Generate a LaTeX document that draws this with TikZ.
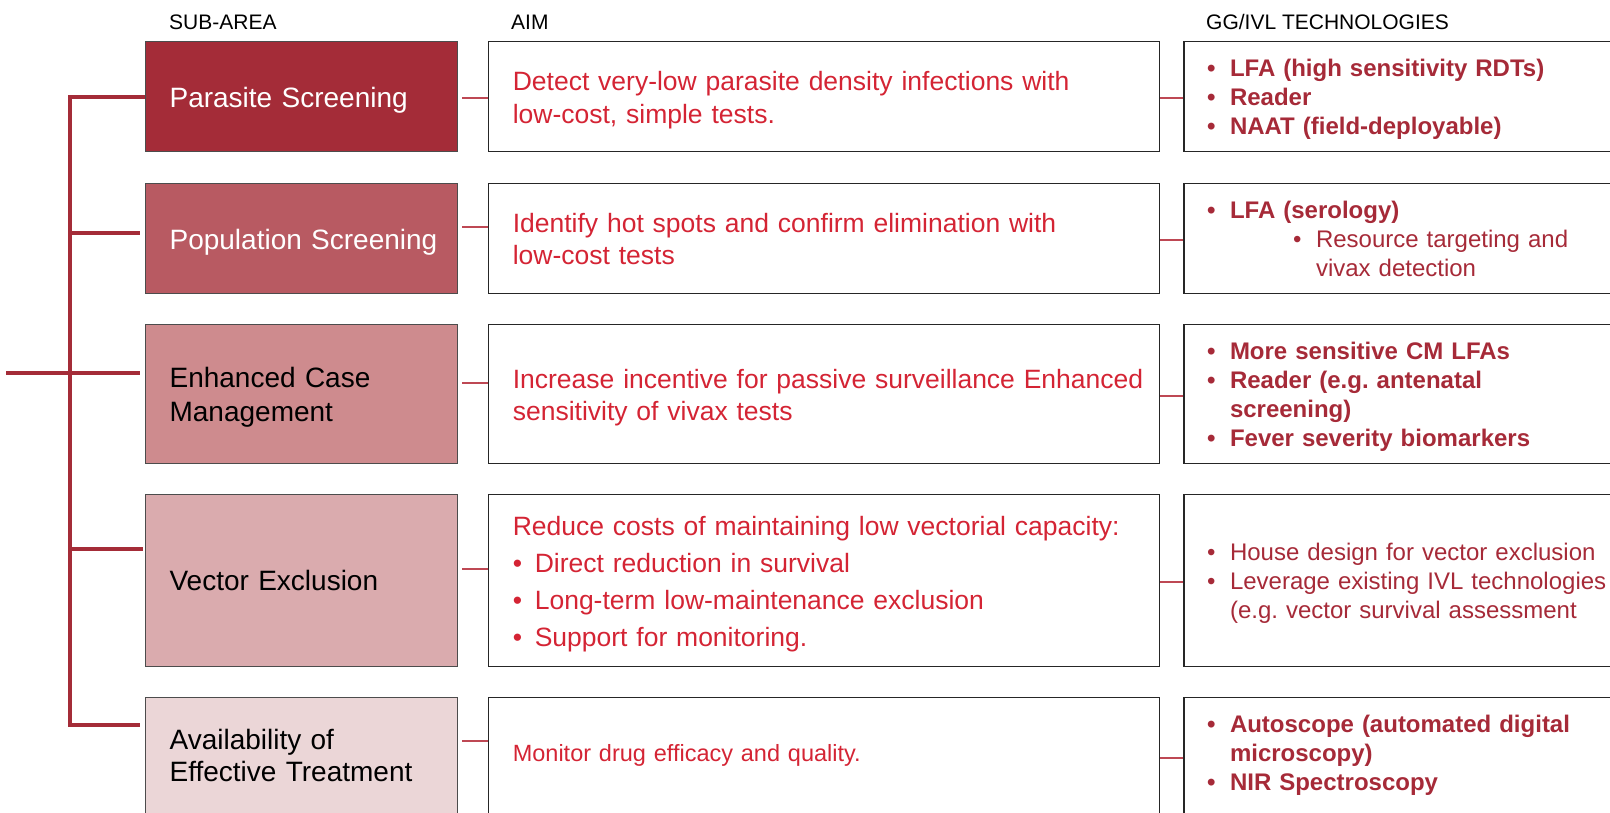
\documentclass[tikz,border=0pt]{standalone}
\usepackage{fontspec}
\setmainfont{Liberation Sans}
\usetikzlibrary{positioning}
\frenchspacing

\begin{document}
\begin{tikzpicture}[x=1pt, y=-1pt]

	\useasboundingbox (0,0) rectangle (1610,812);

	\def\subx{145}
	\def\spinex{70}
	\def\gapa{30pt}
	\def\gapb{23pt}

	\def\abul{\makebox[22pt][l]{\textbullet}}
	\def\tbul{\makebox[23pt][l]{\textbullet}}

	% Colours
	\definecolor{subA}{RGB}{164,44,56}
	\definecolor{subB}{RGB}{184,90,98}
	\definecolor{subC}{RGB}{206,139,142}
	\definecolor{subD}{RGB}{218,171,174}
	\definecolor{subE}{RGB}{235,214,215}
	\definecolor{aimred}{RGB}{212,36,52}
	\definecolor{techred}{RGB}{166,42,56}
	\colorlet{bracketred}{subA}
	\definecolor{linkred}{RGB}{190,72,84}

	% Styles
	\tikzstyle{header}=[anchor=base west, inner sep=0pt, font=\fontsize{21}{25}\selectfont]
	\tikzstyle{boxtext}=[inner ysep=0pt, align=left, execute at begin node={\rule{0pt}{0.98em}}]
	\tikzstyle{balance}=[execute at end node={\rule[-#1]{0pt}{0pt}}]
	\tikzstyle{subbox}=[boxtext, draw=black!70, line width=1.2pt, anchor=north west, inner xsep=24pt,
		text width=264pt, font=\fontsize{28}{34}\selectfont]
	\tikzstyle{aimbox}=[boxtext, draw=black!85, line width=1.2pt, inner xsep=24pt,
		text width=623pt, text=aimred, font=\fontsize{26.5}{32.5}\selectfont]
	\tikzstyle{techbox}=[boxtext, draw=black!85, line width=1.2pt, inner xsep=23pt,
		text width=398pt, text=techred, font=\fontsize{24}{29}\selectfont]
	\tikzstyle{bracket}=[bracketred, line width=3.5pt]
	\tikzstyle{link}=[linkred, line width=2pt]

	%== Column headers =======================================================
	\node[header] (hsub) at (169,29.5) {SUB-AREA};
	\node[header] (haim) at (511,29.5) {AIM};
	\node[header] (htech) at (1206,29.5) {GG/IVL TECHNOLOGIES};

	%== Parasite screening ===================================================
	\node[subbox, fill=subA, text=white, minimum height=110pt] (sub1) at (\subx,41) {Parasite Screening};
	\node[aimbox, minimum height=110pt, right=\gapa of sub1] (aim1)
		{Detect very-low parasite density infections with\\low-cost, simple tests.};
	\node[techbox, minimum height=110pt, right=\gapb of aim1] (tech1)
		{\bfseries \tbul LFA (high sensitivity RDTs)\\ \tbul Reader\\ \tbul NAAT (field-deployable)};

	%== Population screening =================================================
	\node[subbox, fill=subB, text=white, minimum height=110pt] (sub2) at (\subx,183) {\mbox{Population Screening}};
	\node[aimbox, minimum height=110pt, balance=0.25em, right=\gapa of sub2] (aim2)
		{Identify hot spots and confirm elimination with\\low-cost tests};
	\node[techbox, minimum height=110pt, balance=0.25em, right=\gapb of aim2] (tech2)
		{{\bfseries \tbul LFA (serology)}\\
		 \hspace*{86pt}\tbul Resource targeting and\\
		 \hspace*{109pt}vivax detection};

	%== Enhanced case management =============================================
	\node[subbox, fill=subC, minimum height=139pt] (sub3) at (\subx,324) {Enhanced Case\\Management};
	\node[aimbox, minimum height=139pt, right=\gapa of sub3] (aim3)
		{\mbox{Increase incentive for passive surveillance Enhanced}\\sensitivity of vivax tests};
	\node[techbox, minimum height=139pt, right=\gapb of aim3] (tech3)
		{\bfseries \tbul More sensitive CM LFAs\\ \tbul Reader (e.g. antenatal\\
		 \hspace*{23pt}screening)\\ \tbul Fever severity biomarkers};

	%== Vector exclusion =====================================================
	\node[subbox, fill=subD, minimum height=172pt, balance=0.25em] (sub4) at (\subx,494) {Vector Exclusion};
	\node[aimbox, minimum height=172pt, right=\gapa of sub4, font=\fontsize{26.5}{37}\selectfont] (aim4)
		{Reduce costs of maintaining low vectorial capacity:\\
		 \abul Direct reduction in survival\\
		 \abul Long-term low-maintenance exclusion\\
		 \abul Support for monitoring.};
	\node[techbox, minimum height=172pt, right=\gapb of aim4] (tech4)
		{\tbul House design for vector exclusion\\
		 \tbul \mbox{Leverage existing IVL technologies}\\
		 \hspace*{23pt}(e.g. vector survival assessment};

	%== Effective treatment ==================================================
	\node[subbox, fill=subE, minimum height=116pt, balance=0.25em, font=\fontsize{28}{32}\selectfont] (sub5) at (\subx,697)
		{Availability of\\Effective Treatment};
	\node[aimbox, minimum height=116pt, balance=0.46em, right=\gapa of sub5, font=\fontsize{23.5}{28}\selectfont] (aim5)
		{Monitor drug efficacy and quality.};
	\node[techbox, minimum height=116pt, balance=0.46em, right=\gapb of aim5] (tech5)
		{\bfseries \tbul Autoscope (automated digital\\ \hspace*{23pt}microscopy)\\ \tbul NIR Spectroscopy};

	% Bracket
	\coordinate (spinetop) at (\spinex,97);
	\coordinate (spinebot) at (\spinex,725);
	\coordinate (root) at (6,373);
	\draw[bracket] (sub1.west |- spinetop) -- (spinetop) -- (spinebot) -- ([xshift=-5pt]sub5.west |- spinebot);
	\draw[bracket] (spinetop |- 0,233) -- ([xshift=-5pt]sub2.west |- 0,233);
	\draw[bracket] (root) -- ([xshift=-5pt]sub3.west |- root);
	\draw[bracket] ([xshift=2pt]spinetop |- 0,549) -- ([xshift=-2pt]sub4.west |- 0,549);

	% Links between columns
	\draw[link] ([xshift=4pt]sub1.east |- 0,98) -- (aim1.west |- 0,98);
	\draw[link] (aim1.east |- 0,98) -- (tech1.west |- 0,98);
	\draw[link] ([xshift=4pt]sub2.east |- 0,227) -- (aim2.west |- 0,227);
	\draw[link] (aim2.east |- 0,240) -- (tech2.west |- 0,240);
	\draw[link] ([xshift=4pt]sub3.east |- 0,383) -- (aim3.west |- 0,383);
	\draw[link] (aim3.east |- 0,396) -- (tech3.west |- 0,396);
	\draw[link] ([xshift=4pt]sub4.east |- 0,569) -- (aim4.west |- 0,569);
	\draw[link] (aim4.east |- 0,582) -- (tech4.west |- 0,582);
	\draw[link] ([xshift=4pt]sub5.east |- 0,741) -- (aim5.west |- 0,741);
	\draw[link] (aim5.east |- 0,758) -- (tech5.west |- 0,758);

\end{tikzpicture}
\end{document}
